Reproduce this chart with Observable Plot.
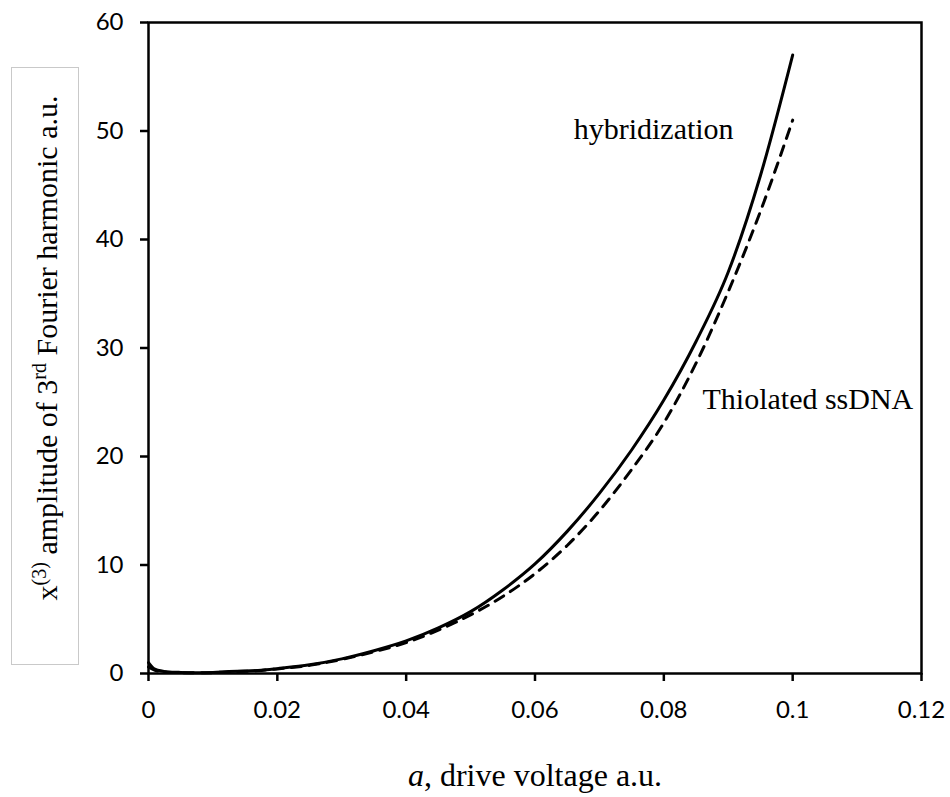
<!DOCTYPE html>
<html>
<head>
<meta charset="utf-8">
<script src="https://cdn.jsdelivr.net/npm/d3@7"></script>
<script src="https://cdn.jsdelivr.net/npm/@observablehq/plot@0.6"></script>
<style>
  html, body { margin: 0; padding: 0; background: #fff; }
  #chart svg { display: block; }
</style>
</head>
<body>
<div id="chart"></div>
<script>
// Drive voltage (x) samples
const driveVoltage = [0, 0.001, 0.003, 0.005, 0.0075, 0.01, 0.0125, 0.015, 0.0175, 0.02, 0.025, 0.03, 0.035, 0.04, 0.045, 0.05, 0.055, 0.06, 0.065, 0.07, 0.075, 0.08, 0.085, 0.09, 0.095, 0.1];
// 3rd harmonic amplitude – hybridization (solid)
const hybridization = [1.0, 0.4, 0.15, 0.1, 0.08, 0.1, 0.18, 0.22, 0.3, 0.45, 0.8, 1.35, 2.1, 3.0, 4.2, 5.7, 7.7, 10.1, 13.1, 16.6, 20.6, 25.2, 30.6, 37.0, 45.9, 57.0];
// 3rd harmonic amplitude – thiolated ssDNA (dashed)
const thiolated = [0.6, 0.3, 0.12, 0.08, 0.06, 0.08, 0.15, 0.2, 0.28, 0.42, 0.75, 1.3, 2.0, 2.85, 4.0, 5.4, 7.1, 9.2, 11.8, 15.0, 18.8, 23.1, 28.6, 35.2, 42.6, 51.0];

const xTicks = [0, 0.02, 0.04, 0.06, 0.08, 0.1, 0.12];
const yTicks = [0, 10, 20, 30, 40, 50, 60];

const seriesLabels = ["hybridization", "Thiolated ssDNA"];
const labelX = [0.066, 0.086];
const labelY = [49.3, 24.4];

const xTitle = "a, drive voltage a.u.";
const yTitle = "x(3) amplitude of 3rd Fourier harmonic a.u.";

const hybData = driveVoltage.map((x, i) => ({x, y: hybridization[i]}));
const thiData = driveVoltage.map((x, i) => ({x, y: thiolated[i]}));
const labels = seriesLabels.map((t, i) => ({t, x: labelX[i], y: labelY[i]}));

const serif = "'Liberation Serif', 'Times New Roman', serif";

const svg = Plot.plot({
  width: 950,
  height: 797,
  marginLeft: 148,
  marginRight: 29,
  marginTop: 22,
  marginBottom: 124,
  style: {fontFamily: "Lato, sans-serif", fontSize: "24px", color: "#000", background: "#fff"},
  x: {domain: [0, 0.12]},
  y: {domain: [0, 60]},
  marks: [
    Plot.axisX({ticks: xTicks, tickSize: 8, tickPadding: 19, strokeWidth: 2.5, tickFormat: d => String(+d.toFixed(2)), label: null}),
    Plot.axisY({ticks: yTicks, tickSize: 8, tickPadding: 17, strokeWidth: 2.5, tickFormat: d => String(d), label: null}),
    Plot.line(thiData, {x: "x", y: "y", stroke: "#000", strokeWidth: 3, strokeDasharray: "10,8", curve: "monotone-x"}),
    Plot.line(hybData, {x: "x", y: "y", stroke: "#000", strokeWidth: 3, curve: "monotone-x"}),
    Plot.frame({stroke: "#000", strokeWidth: 2.5}),
    Plot.text(labels, {x: "x", y: "y", text: "t", textAnchor: "start", lineAnchor: "bottom", fontFamily: serif, fontSize: 30, fill: "#000"}),
    Plot.text([xTitle], {frameAnchor: "bottom", text: d => d, textAnchor: "middle", lineAnchor: "bottom", dy: 112, fontFamily: serif, fontSize: 32, fill: "#000"}),
    Plot.text([yTitle], {frameAnchor: "left", text: d => d, textAnchor: "middle", rotate: -90, lineAnchor: "bottom", dx: -92, fontFamily: serif, fontSize: 30, fill: "#000"})
  ]
});

document.getElementById("chart").appendChild(svg);

const root = d3.select(svg);
// Box around the y-axis title
root.insert("rect", ":first-child")
  .attr("x", 11.5).attr("y", 67.5).attr("width", 67).attr("height", 597)
  .attr("fill", "none").attr("stroke", "#c9c9c9").attr("stroke-width", 1);

// Rich text for titles
root.selectAll("text").each(function() {
  const el = d3.select(this);
  const txt = this.textContent;
  if (txt === yTitle) {
    el.text(null);
    el.append("tspan").text("x");
    el.append("tspan").attr("dy", -11).attr("font-size", 20).text("(3)");
    el.append("tspan").attr("dy", 11).text(" amplitude of 3");
    el.append("tspan").attr("dy", -11).attr("font-size", 20).text("rd");
    el.append("tspan").attr("dy", 11).text(" Fourier harmonic a.u.");
  } else if (txt === xTitle) {
    el.text(null);
    el.append("tspan").attr("font-style", "italic").text("a");
    el.append("tspan").text(", drive voltage a.u.");
  }
});
</script>
</body>
</html>
